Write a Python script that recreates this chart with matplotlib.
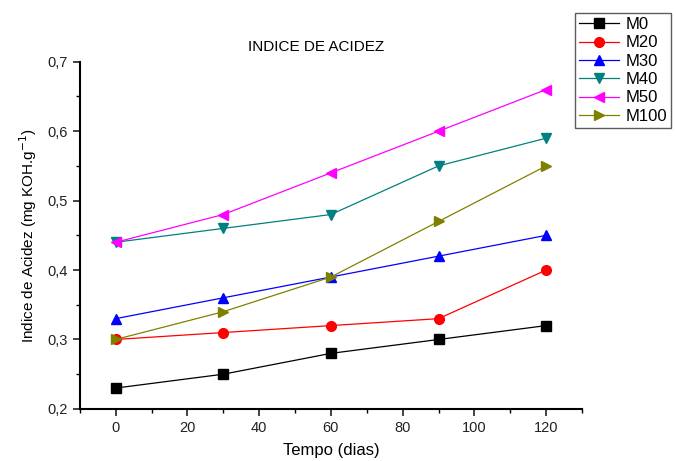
import matplotlib
matplotlib.use("Agg")
import matplotlib.pyplot as plt
from matplotlib.ticker import MultipleLocator, FuncFormatter

plt.rcParams['font.family'] = ['Liberation Sans', 'DejaVu Sans']

# dados
dias = [0, 30, 60, 90, 120]
series = ["M0", "M20", "M30", "M40", "M50", "M100"]
m0 = [0.23, 0.25, 0.28, 0.30, 0.32]
m20 = [0.30, 0.31, 0.32, 0.33, 0.40]
m30 = [0.33, 0.36, 0.39, 0.42, 0.45]
m40 = [0.44, 0.46, 0.48, 0.55, 0.59]
m50 = [0.44, 0.48, 0.54, 0.60, 0.66]
m100 = [0.30, 0.34, 0.39, 0.47, 0.55]

valores = [m0, m20, m30, m40, m50, m100]
cores = ["#000000", "#ff0000", "#0000ff", "#008080", "#ff00ff", "#808000"]
marcas = ["s", "o", "^", "v", "<", ">"]

fig = plt.figure(figsize=(6.76, 4.61), dpi=100)
ax = fig.add_axes([0.118, 0.113, 0.743, 0.753])

linhas = []
for nome, v, c, m in zip(series, valores, cores, marcas):
    l, = ax.plot(dias, v, color=c, marker=m, markersize=7, linewidth=0.9,
                 markeredgecolor=c, label=nome)
    linhas.append(l)

ax.set_xlim(-10, 130)
ax.set_ylim(0.2, 0.7)
ax.xaxis.set_major_locator(MultipleLocator(20))
ax.xaxis.set_minor_locator(MultipleLocator(10))
ax.yaxis.set_major_locator(MultipleLocator(0.1))
ax.yaxis.set_minor_locator(MultipleLocator(0.05))
ax.yaxis.set_major_formatter(FuncFormatter(lambda v, p: ("%.1f" % v).replace(".", ",")))

for s in ["top", "right"]:
    ax.spines[s].set_visible(False)
for s in ["left", "bottom"]:
    ax.spines[s].set_linewidth(1.5)

ax.tick_params(which="major", direction="out", length=5, width=1.2, labelsize=10.5, colors="#222222")
ax.tick_params(which="minor", direction="out", length=3, width=1.0)

ax.set_xlabel("Tempo (dias)", fontsize=12, labelpad=6)
ax.set_ylabel("Indice de Acidez (mg KOH.g$^{-1}$)", fontsize=11, labelpad=6)
ax.set_title("INDICE DE ACIDEZ", fontsize=11, pad=8, x=0.47)

leg = fig.legend(handles=linhas, loc="upper left", bbox_to_anchor=(0.851, 0.972),
                 fontsize=12, frameon=True, fancybox=False, edgecolor="#333333",
                 borderpad=0.25, labelspacing=0.2, handlelength=2.4,
                 handletextpad=0.35, borderaxespad=0)
leg.get_frame().set_linewidth(1.0)

fig.savefig("out.png", dpi=100)
